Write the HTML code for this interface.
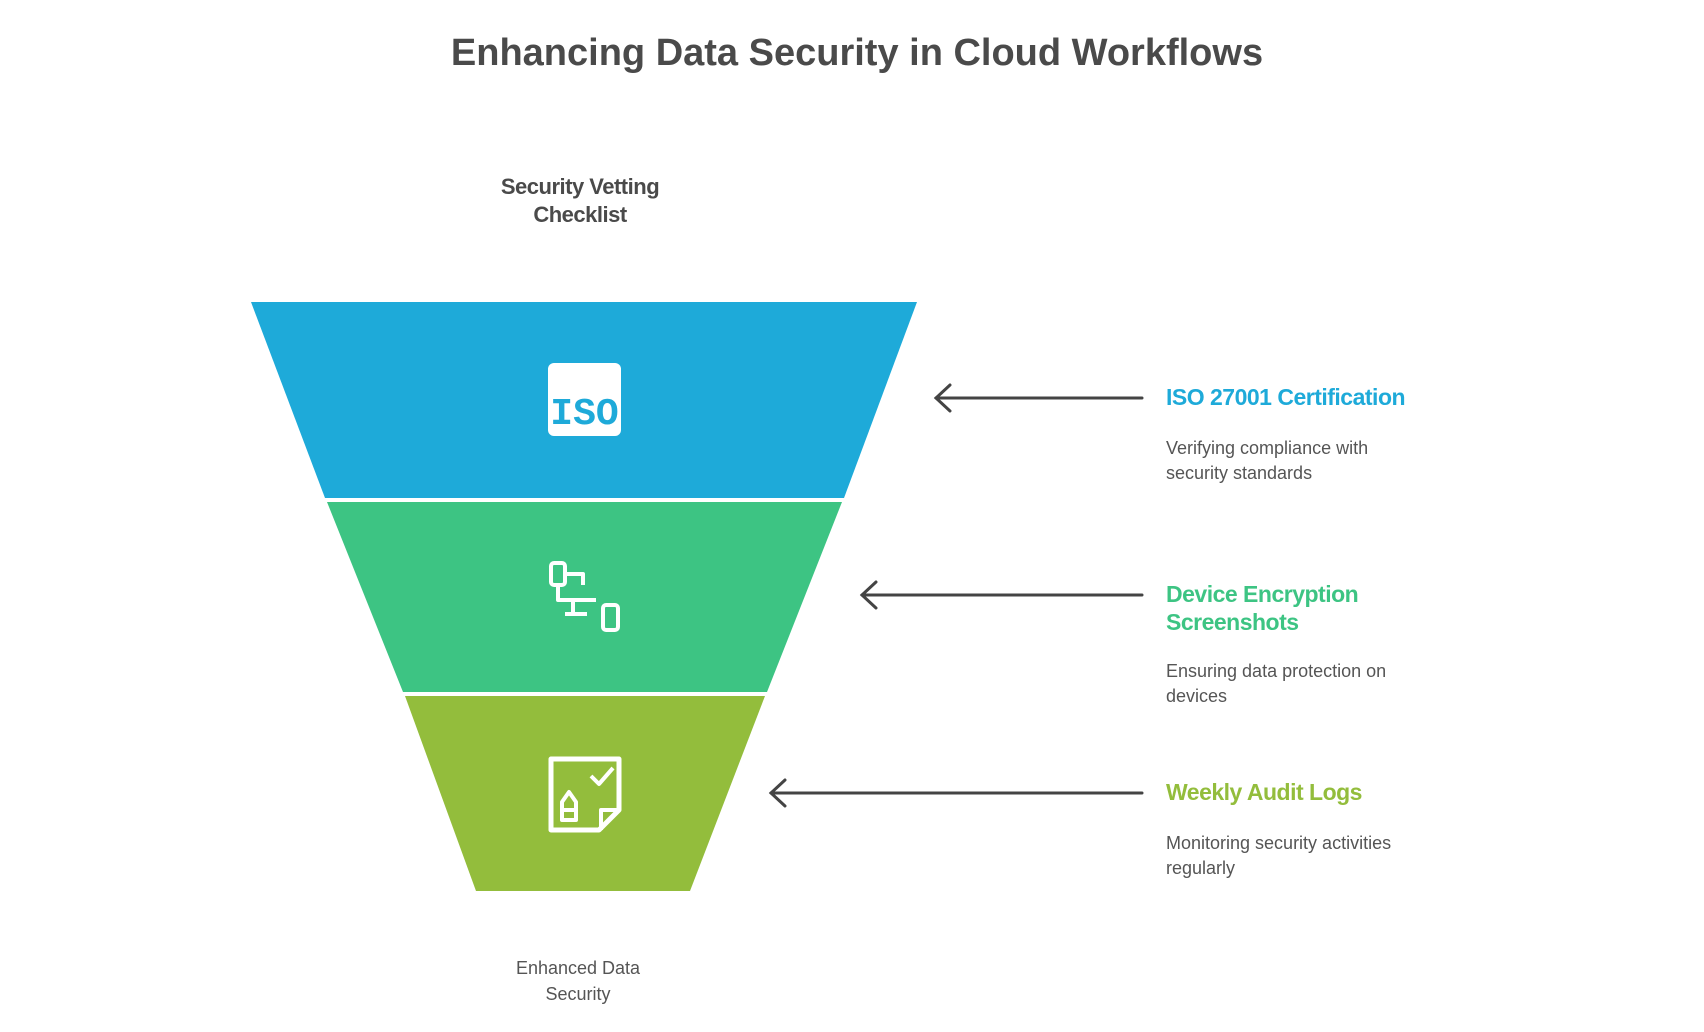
<!DOCTYPE html>
<html><head><meta charset="utf-8"><style>
body{margin:0;width:1704px;height:1032px;background:#fff;font-family:"Liberation Sans",sans-serif;position:relative;overflow:hidden}
.t{position:absolute;white-space:nowrap}
.h{font-weight:bold;font-size:23px;letter-spacing:-0.5px}
.d{font-size:18px;color:#555;line-height:25px}
</style></head><body>
<div class="t" style="left:0;width:1714px;top:32px;text-align:center;font-size:38px;font-weight:bold;color:#4a4a4a;letter-spacing:0px">Enhancing Data Security in Cloud Workflows</div>
<div class="t" style="left:430px;width:300px;top:173px;text-align:center;font-size:22px;font-weight:bold;color:#4a4a4a;line-height:28px;letter-spacing:-0.5px">Security Vetting<br>Checklist</div>
<div class="t" style="left:428px;width:300px;top:955px;text-align:center;font-size:18px;color:#555;line-height:26px">Enhanced Data<br>Security</div>
<svg width="1704" height="1032" style="position:absolute;left:0;top:0">
<polygon points="251,302 917,302 844,498 325,498" fill="#1EAAD9"/>
<polygon points="327,502 842,502 767,692 403,692" fill="#3DC483"/>
<polygon points="405,696 765,696 690,891 476,891" fill="#93BD3C"/>
<rect x="548" y="363" width="73" height="73" rx="6" fill="#fff"/>
<text x="584.5" y="424" text-anchor="middle" font-family="Liberation Mono,monospace" font-size="38" font-weight="bold" fill="#1EAAD9">ISO</text>
<g fill="none" stroke="#fff" stroke-width="4" stroke-linejoin="round">
<rect x="551" y="563" width="14" height="22" rx="3"/>
<path d="M565 574 H583 V585"/>
<path d="M558 585 V600 H596"/>
<path d="M573 600 V614 M565 614 H587"/>
<rect x="603" y="605" width="15" height="25" rx="3"/>
<path d="M551 759 H619 V810 L599 830 H551 Z" stroke-width="5"/>
<path d="M591 776 L599 784 L613 768"/>
<path d="M562 802 L569 792 L576 802 V820 H562 Z M562 810 H576"/>
<path d="M619 810 H601 V830"/>
</g>
<g stroke="#444" stroke-width="3" fill="none" stroke-linecap="round">
<line x1="936" y1="398" x2="1142" y2="398"/><polyline points="950,385 936,398 950,411"/>
<line x1="862" y1="595" x2="1142" y2="595"/><polyline points="876,582 862,595 876,608"/>
<line x1="771" y1="793" x2="1142" y2="793"/><polyline points="785,780 771,793 785,806"/>
</g>
</svg>
<div class="t h" style="left:1166px;top:384px;color:#1EAAD9">ISO 27001 Certification</div>
<div class="t d" style="left:1166px;top:436px">Verifying compliance with<br>security standards</div>
<div class="t h" style="left:1166px;top:580px;color:#3DC483;line-height:28px">Device Encryption<br>Screenshots</div>
<div class="t d" style="left:1166px;top:659px">Ensuring data protection on<br>devices</div>
<div class="t h" style="left:1166px;top:779px;color:#93BD3C">Weekly Audit Logs</div>
<div class="t d" style="left:1166px;top:831px">Monitoring security activities<br>regularly</div>
</body></html>
